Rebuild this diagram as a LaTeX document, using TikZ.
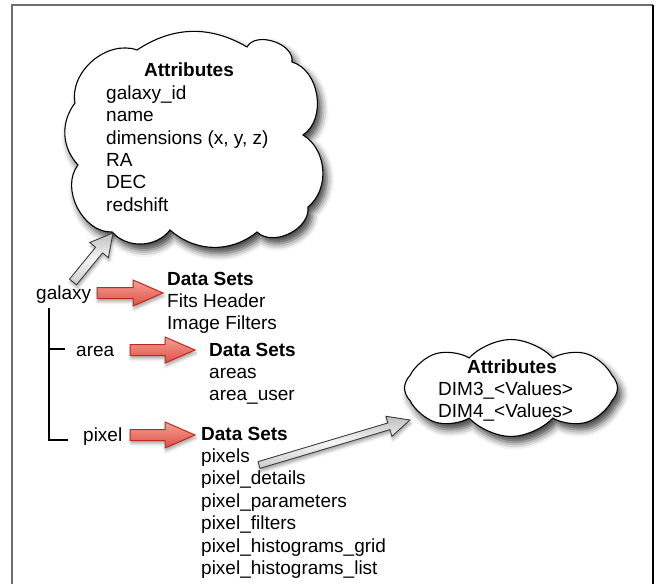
\documentclass[tikz,border=0pt]{standalone}
\usepackage{fontspec}
\setmainfont{Liberation Sans}
\usetikzlibrary{shapes.symbols,shadows.blur,calc}
\definecolor{redborder}{RGB}{196,40,28}
\definecolor{redtop}{RGB}{244,160,150}
\definecolor{redbot}{RGB}{222,80,68}
\definecolor{grayborder}{RGB}{60,60,60}
\definecolor{framegray}{RGB}{110,110,110}
\newcommand\blockarrow[6]{%
  \path let \p1=(#1),\p2=(#2) in \pgfextra{%
    \pgfmathsetmacro\baang{atan2(\y2-\y1,\x2-\x1)}%
    \pgfmathsetmacro\balen{veclen(\x2-\x1,\y2-\y1)}%
    \xdef\baang{\baang}\xdef\balen{\balen}};
  \begin{scope}[shift={(#1)},rotate=\baang]
    \draw[#3] (0pt,#4) -- ({\balen pt-#6},#4) -- ({\balen pt-#6},#5) -- ({\balen pt},0pt)
      -- ({\balen pt-#6},-#5) -- ({\balen pt-#6},-#4) -- (0pt,-#4) -- cycle;
  \end{scope}}
\begin{document}
\begin{tikzpicture}[x=1pt,y=-1pt,
  txt/.style={inner sep=0pt, font=\fontsize{19}{22.4}\selectfont},
  cloudline/.style={draw=black, line width=1.1pt, fill=white,
    blur shadow={shadow xshift=4pt, shadow yshift=-6pt, shadow blur radius=7pt, shadow opacity=75}},
  cloudbox/.style={cloud, cloud ignores aspect, cloudline, inner sep=0pt},
  redarrow/.style={draw=redborder, line width=1pt, top color=redtop, bottom color=redbot,
    blur shadow={shadow xshift=1pt, shadow yshift=-3pt, shadow blur radius=3pt, shadow opacity=35}},
  grayarrow/.style={draw=grayborder, line width=0.9pt, top color=gray!50, bottom color=gray!40, middle color=gray!8,
    blur shadow={shadow xshift=1pt, shadow yshift=-3pt, shadow blur radius=3pt, shadow opacity=35}},
  treeline/.style={draw=black, line width=1.1pt}]
\useasboundingbox (0,0) rectangle (660,583);
% frame
\draw[framegray, line width=1.4pt] (12,584) -- (12,5) -- (653,5);
\draw[black, line width=1.4pt] (653,5) -- (653,584);
% cloud 1 (galaxy attributes)
\coordinate (c1) at (192,140);
\draw[cloudline] (75,103) to[bend left=60] (137,50) to[bend left=32] (247,47)
  to[bend left=80] (292,62) to[bend left=65] (303,135) to[bend left=55] (308,207)
  to[bend left=70] (257,232) to[bend left=40] (170,230) to[bend left=50] (112,232)
  to[bend left=65] (78,165) to[bend left=40] (75,103) -- cycle;
% cloud 2 (pixel attributes)
\node[cloudbox, cloud puffs=8, cloud puff arc=95, minimum width=213pt, minimum height=97pt] (c2) at (511,388) {};
% cloud texts
\node[txt, anchor=base] (c1title) at (189,77) {\textbf{Attributes}};
\node[txt, anchor=base west] (c1list) at (106,99.3) {\begin{tabular}[t]{@{}l@{}}galaxy\_id\\name\\dimensions (x, y, z)\\RA\\DEC\\redshift\end{tabular}};
\node[txt, anchor=base] (c2title) at (512,373) {\textbf{Attributes}};
\node[txt, anchor=base west] (c2list) at (438,395.5) {\begin{tabular}[t]{@{}l@{}}DIM3\_<Values>\\DIM4\_<Values>\end{tabular}};
% labels
\node[txt, anchor=base west] (galaxy) at (36,299) {galaxy};
\node[txt, anchor=base west] (area) at (76,356.5) {area};
\node[txt, anchor=base west] (pixel) at (83,441.5) {pixel};
% data sets
\node[txt, anchor=base west] (ds1) at (167,285) {\begin{tabular}[t]{@{}l@{}}\textbf{Data Sets}\\Fits Header\\Image Filters\end{tabular}};
\node[txt, anchor=base west] (ds2) at (209,356) {\begin{tabular}[t]{@{}l@{}}\textbf{Data Sets}\\areas\\area\_user\end{tabular}};
\node[txt, anchor=base west] (ds3) at (201,440) {\begin{tabular}[t]{@{}l@{}}\textbf{Data Sets}\\pixels\\pixel\_details\\pixel\_parameters\\pixel\_filters\\pixel\_histograms\_grid\\pixel\_histograms\_list\end{tabular}};
% tree
\coordinate (tA) at (49,308);
\coordinate (tB) at (49,440);
\coordinate (tC) at (68,440);
\coordinate (tD) at (49,349);
\coordinate (tE) at (65,349);
\draw[treeline] (tA) -- (tB) -- (tC);
\draw[treeline] (tD) -- (tE);
% arrow end points
\coordinate (r1s) at (97,293);  \coordinate (r1e) at (163,293);
\coordinate (r2s) at (130,350); \coordinate (r2e) at (195,350);
\coordinate (r3s) at (130,435); \coordinate (r3e) at (195,435);
\coordinate (g1s) at (73,282);  \coordinate (g1e) at (113,233);
\coordinate (g2s) at (259,465); \coordinate (g2e) at (410,420);
\blockarrow{r1s}{r1e}{redarrow}{5.5pt}{13pt}{30pt}
\blockarrow{r2s}{r2e}{redarrow}{5.5pt}{13pt}{30pt}
\blockarrow{r3s}{r3e}{redarrow}{5.5pt}{13pt}{30pt}
\blockarrow{g1s}{g1e}{grayarrow}{4.5pt}{12pt}{22pt}
\blockarrow{g2s}{g2e}{grayarrow}{3.5pt}{10.5pt}{22pt}
\end{tikzpicture}
\end{document}
